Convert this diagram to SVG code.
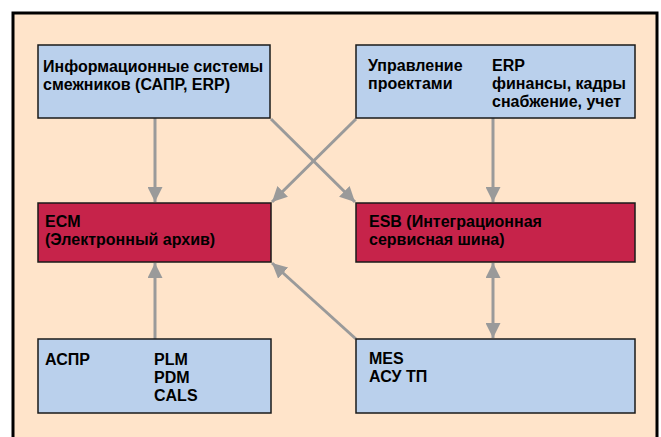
<svg xmlns="http://www.w3.org/2000/svg" width="661" height="437" viewBox="0 0 661 437">
<style>
.t{font-family:"Liberation Sans",Arial,sans-serif;font-weight:bold;font-size:16px;fill:#000}
.b{fill:#BAD0EC;stroke:#1a1a1a;stroke-width:1.5}
.r{fill:#C6234A;stroke:#1a1a1a;stroke-width:1.5}
.c{stroke:#9A9A9A;stroke-width:3;fill:none}
</style>
<defs>
<marker id="ah" viewBox="0 0 10 10" refX="10" refY="5" markerWidth="5" markerHeight="5" orient="auto-start-reverse" markerUnits="strokeWidth">
<path d="M0,0 L10,5 L0,10 z" fill="#9A9A9A"/>
</marker>
</defs>
<rect width="661" height="437" fill="#fff"/>
<rect x="13" y="13" width="644" height="440" fill="#FFE4CA" stroke="#000" stroke-width="3"/>
<g id="connectors">
<line class="c" x1="155" y1="118" x2="155" y2="202" marker-end="url(#ah)"/>
<line class="c" x1="493" y1="118" x2="493" y2="202" marker-end="url(#ah)"/>
<line class="c" x1="271" y1="119" x2="355" y2="202" marker-end="url(#ah)"/>
<line class="c" x1="356" y1="119" x2="272" y2="202" marker-end="url(#ah)"/>
<line class="c" x1="155" y1="339" x2="155" y2="263" marker-end="url(#ah)"/>
<line class="c" x1="356" y1="339" x2="272" y2="263" marker-end="url(#ah)"/>
<line class="c" x1="493" y1="263" x2="493" y2="338" marker-start="url(#ah)" marker-end="url(#ah)"/>
</g>
<g id="n1">
<rect class="b" x="38" y="45" width="232" height="73"/>
<text class="t" x="43" y="72">Информационные системы</text>
<text class="t" x="43" y="90">смежников (САПР, ERP)</text>
</g>
<g id="n2">
<rect class="b" x="356" y="45" width="279" height="73"/>
<text class="t" x="368" y="71">Управление</text>
<text class="t" x="368" y="89">проектами</text>
<text class="t" x="492" y="71">ERP</text>
<text class="t" x="492" y="89">финансы, кадры</text>
<text class="t" x="492" y="107">снабжение, учет</text>
</g>
<g id="n3">
<rect class="r" x="38" y="203" width="233" height="59"/>
<text class="t" x="45" y="227">ECM</text>
<text class="t" x="45" y="245">(Электронный архив)</text>
</g>
<g id="n4">
<rect class="r" x="356" y="203" width="279" height="59"/>
<text class="t" x="369" y="227">ESB (Интеграционная</text>
<text class="t" x="369" y="245">сервисная шина)</text>
</g>
<g id="n5">
<rect class="b" x="38" y="339" width="233" height="74"/>
<text class="t" x="45" y="365">АСПР</text>
<text class="t" x="154" y="365">PLM</text>
<text class="t" x="154" y="383">PDM</text>
<text class="t" x="154" y="401">CALS</text>
</g>
<g id="n6">
<rect class="b" x="356" y="339" width="279" height="74"/>
<text class="t" x="369" y="364">MES</text>
<text class="t" x="369" y="382">АСУ ТП</text>
</g>
</svg>
